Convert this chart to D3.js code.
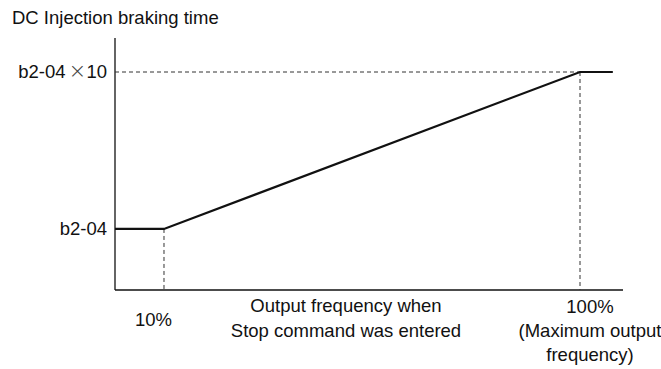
<!DOCTYPE html>
<html>
<head>
<meta charset="utf-8">
<script src="https://cdn.jsdelivr.net/npm/d3@7"></script>
<style>
  body { margin: 0; background: #fff; }
  svg text { font-family: "Liberation Sans", Arial, sans-serif; fill: #111; }
</style>
</head>
<body>
<svg id="chart" width="661" height="369"></svg>
<script>
// Braking time (multiples of b2-04) against output frequency at stop (%)
const freqPoints = [-0.6, 10, 100, 107.1];
const timeMultiples = [1, 1, 10, 10];
const yTickValues = [1, 10];
const yTickLabels = [["b2-04"], ["b2-04", "\u00d7", "10"]];
const xTickValues = [10, 100];
const xTickLabels = [["10%"], ["100%", "(Maximum output", "frequency)"]];
const xTitleLines = ["Output frequency when", "Stop command was entered"];
const yTitle = "DC Injection braking time";

const svg = d3.select("#chart");
const fs = 18.5;

const x = d3.scaleLinear().domain([-0.6, 109.3]).range([115, 623]);
const y = d3.scaleLinear().domain([-2.5, 11.95]).range([290, 38]);

const ink = "#111";

// axes
svg.append("line")
  .attr("x1", x(-0.6)).attr("x2", x(-0.6))
  .attr("y1", y(11.95)).attr("y2", y(-2.5))
  .attr("stroke", ink).attr("stroke-width", 1.3);
svg.append("line")
  .attr("x1", x(-0.6)).attr("x2", x(109.3))
  .attr("y1", y(-2.5)).attr("y2", y(-2.5))
  .attr("stroke", ink).attr("stroke-width", 1.3);

// dashed guides
const dash = "4,3";
svg.append("line")
  .attr("x1", x(-0.6)).attr("x2", x(100))
  .attr("y1", y(10)).attr("y2", y(10))
  .attr("stroke", "#333").attr("stroke-width", 1).attr("stroke-dasharray", dash);
svg.append("line")
  .attr("x1", x(100)).attr("x2", x(100))
  .attr("y1", y(10)).attr("y2", y(-2.5))
  .attr("stroke", "#333").attr("stroke-width", 1).attr("stroke-dasharray", dash);
svg.append("line")
  .attr("x1", x(10)).attr("x2", x(10))
  .attr("y1", y(1)).attr("y2", y(-2.5))
  .attr("stroke", "#333").attr("stroke-width", 1).attr("stroke-dasharray", dash);

// characteristic
const line = d3.line().x(d => x(d[0])).y(d => y(d[1]));
svg.append("path")
  .datum(freqPoints.map((f, i) => [f, timeMultiples[i]]))
  .attr("d", line)
  .attr("fill", "none").attr("stroke", ink).attr("stroke-width", 2.2);

// y tick labels (the multiplication sign is set lighter and wider)
yTickValues.forEach((v, i) => {
  const t = svg.append("text")
    .attr("x", 107).attr("y", y(v))
    .attr("dy", "0.35em")
    .attr("text-anchor", "end")
    .attr("font-size", fs);
  yTickLabels[i].forEach(part => {
    if (part === "\u00d7") {
      t.append("tspan").attr("dx", 3).attr("font-size", fs * 1.15)
        .attr("font-family", "DejaVu Sans").attr("font-weight", 200)
        .style("fill", "#444").text(part);
      t.append("tspan").attr("dx", 2).text("");
    } else {
      t.append("tspan").text(part);
    }
  });
});

// x tick labels
const xLabelY = [[320], [307, 331, 355]];
const xLabelX = [153.5, 590];
xTickValues.forEach((v, i) => {
  xTickLabels[i].forEach((t, j) => {
    svg.append("text")
      .attr("x", xLabelX[i]).attr("y", xLabelY[i][j])
      .attr("dy", "0.35em")
      .attr("text-anchor", "middle")
      .attr("font-size", fs)
      .text(t);
  });
});

// axis titles
xTitleLines.forEach((t, j) => {
  svg.append("text")
    .attr("x", 346).attr("y", 306 + j * 25)
    .attr("dy", "0.35em")
    .attr("text-anchor", "middle")
    .attr("font-size", fs)
    .text(t);
});
svg.append("text")
  .attr("x", 12).attr("y", 18)
  .attr("dy", "0.35em")
  .attr("font-size", fs)
  .text(yTitle);
</script>
</body>
</html>
